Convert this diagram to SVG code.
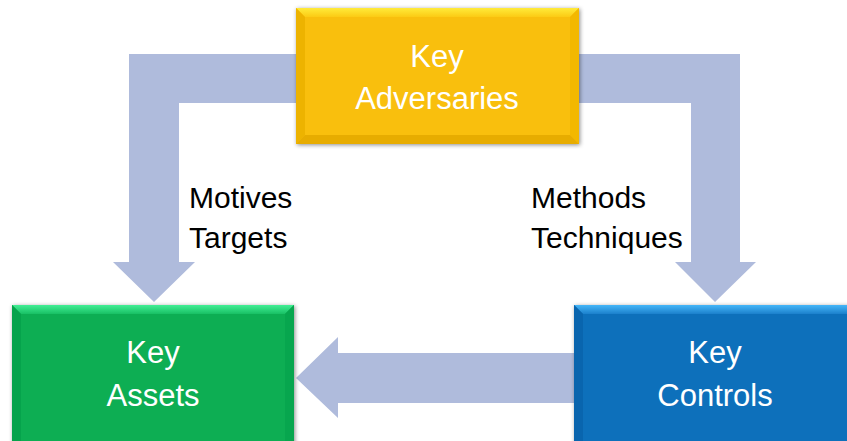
<svg xmlns="http://www.w3.org/2000/svg" width="847" height="441" viewBox="0 0 847 441">
  <defs>
    <filter id="shadow" x="-10%" y="-10%" width="120%" height="120%">
      <feDropShadow dx="1" dy="1" stdDeviation="2" flood-color="#000" flood-opacity="0.45"/>
    </filter>
    <linearGradient id="yTop" x1="0" y1="0" x2="0" y2="1">
      <stop offset="0" stop-color="#FFEB3A"/>
      <stop offset="1" stop-color="#FCCB14"/>
    </linearGradient>
    <linearGradient id="gTop" x1="0" y1="0" x2="0" y2="1">
      <stop offset="0" stop-color="#43EE95"/>
      <stop offset="1" stop-color="#18C064"/>
    </linearGradient>
    <linearGradient id="bTop" x1="0" y1="0" x2="0" y2="1">
      <stop offset="0" stop-color="#45B6F8"/>
      <stop offset="1" stop-color="#1B80CC"/>
    </linearGradient>
  </defs>
  <style>
    .arrow { fill: #AFBBDC; }
    .label { font-family: "Liberation Sans", Arial, sans-serif; font-size: 30px; fill: #000; }
    .boxlabel { font-family: "Liberation Sans", Arial, sans-serif; font-size: 31px; fill: #fff; text-anchor: middle; }
    .yb { fill: #F9BF0A; }
    .yl { fill: #EDB300; }
    .yr { fill: #F3B800; }
    .yd { fill: #E7AC00; }
    .gb { fill: #08AE53; }
    .gl { fill: #06A34C; }
    .gr { fill: #07A64E; }
    .gd { fill: #04994A; }
    .bb { fill: #0B6FBB; }
    .bl { fill: #0965AE; }
    .br { fill: #0A69B3; }
    .bd { fill: #075DA4; }
  </style>

  <g id="connectors">
    <polygon class="arrow" points="300,54 129,54 129,262 113,262 154,302 195,262 179,262 179,103 300,103"/>
    <polygon class="arrow" points="575,54 740,54 740,262 756,262 715,302 675,262 691,262 691,103 575,103"/>
    <polygon class="arrow" points="580,353 338,353 338,337 296,378 338,418 338,403 580,403"/>
  </g>

  <g id="labels">
    <text class="label" x="189" y="208">Motives</text>
    <text class="label" x="189" y="248">Targets</text>
    <text class="label" x="531" y="208">Methods</text>
    <text class="label" x="531" y="248">Techniques</text>
  </g>

  <g id="node-adversaries">
    <g filter="url(#shadow)">
      <rect class="yb" x="296" y="8" width="283" height="136"/>
    </g>
    <polygon fill="url(#yTop)" points="296,8 579,8 570,17 305,17"/>
    <polygon class="yl" points="296,8 305,17 305,135 296,144"/>
    <polygon class="yr" points="579,8 579,144 570,135 570,17"/>
    <polygon class="yd" points="296,144 305,135 570,135 579,144"/>
    <text class="boxlabel" x="437" y="67">Key</text>
    <text class="boxlabel" x="437" y="109">Adversaries</text>
  </g>

  <g id="node-assets">
    <g filter="url(#shadow)">
      <rect class="gb" x="12" y="305" width="282" height="150"/>
    </g>
    <polygon fill="url(#gTop)" points="12,305 294,305 285,314 21,314"/>
    <polygon class="gl" points="12,305 21,314 21,441 12,441"/>
    <polygon class="gr" points="294,305 294,441 285,441 285,314"/>
    <text class="boxlabel" x="153" y="363">Key</text>
    <text class="boxlabel" x="153" y="406">Assets</text>
  </g>

  <g id="node-controls">
    <g filter="url(#shadow)">
      <rect class="bb" x="574" y="305" width="282" height="150"/>
    </g>
    <polygon fill="url(#bTop)" points="574,305 856,305 847,314 583,314"/>
    <polygon class="bl" points="574,305 583,314 583,441 574,441"/>
    <text class="boxlabel" x="715" y="363">Key</text>
    <text class="boxlabel" x="715" y="406">Controls</text>
  </g>
</svg>
